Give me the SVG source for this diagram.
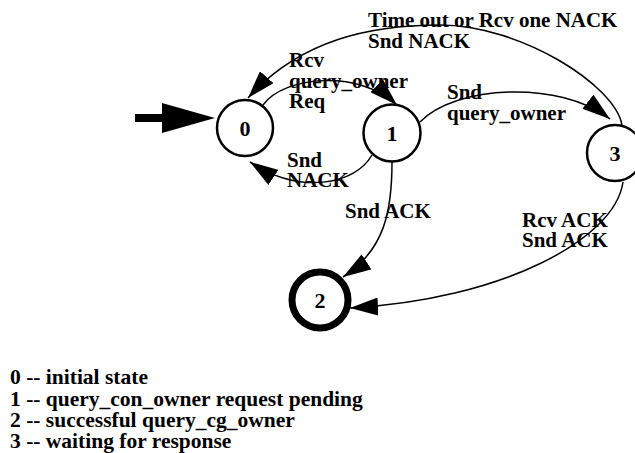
<svg xmlns="http://www.w3.org/2000/svg" width="635" height="453" viewBox="0 0 635 453">
<style>
.t{font-family:'Liberation Serif','Times New Roman',Times,serif;font-weight:700;font-size:21px;fill:#000}
.lg{font-size:21.5px}
.node circle{fill:#fff;stroke:#000;stroke-width:2.5}
.node .final{stroke-width:7}
.node text{text-anchor:middle;font-size:22px}
.edge{fill:none;stroke:#000;stroke-width:1.5;marker-end:url(#ah)}
</style>
<defs>
<marker id="ah" viewBox="0 0 28 18" refX="28" refY="9" markerUnits="userSpaceOnUse" markerWidth="28" markerHeight="18" orient="auto">
<path d="M0,0 L28,9 L0,18 z" fill="#000"/>
</marker>
</defs>
<g id="connectors">
<g id="init"><line x1="135" y1="118" x2="165" y2="118" stroke="#000" stroke-width="8"/><polygon points="162,103 215,118 162,133" fill="#000"/></g>
<path id="e30" class="edge" d="M622,125 C615,85 520,25 440,25 C370,25 300,40 248,98"/>
<path id="e01" class="edge" d="M263,105 C285,75 360,70 397,105"/>
<path id="e10" class="edge" d="M372,155 C355,185 300,195 250,162"/>
<path id="e13" class="edge" d="M420,122 C455,85 560,80 610,119"/>
<path id="e12" class="edge" d="M392,162 C392,210 385,250 343,277"/>
<path id="e32" class="edge" d="M623,182 C615,240 500,300 350,308"/>
</g>
<g id="labels" class="t">
<text x="368" y="27">Time out or Rcv one NACK</text>
<text x="368" y="48">Snd NACK</text>
<text x="289" y="67">Rcv</text>
<text x="289" y="88">query_owner</text>
<text x="289" y="108">Req</text>
<text x="287" y="167">Snd</text>
<text x="287" y="187">NACK</text>
<text x="447" y="99">Snd</text>
<text x="447" y="120">query_owner</text>
<text x="345" y="218">Snd ACK</text>
<text x="522" y="227">Rcv ACK</text>
<text x="522" y="247">Snd ACK</text>
</g>
<g id="node0" class="node t"><circle cx="245" cy="128" r="28"/><text x="245" y="135.5">0</text></g>
<g id="node1" class="node t"><circle cx="392" cy="133" r="28.5"/><text x="392" y="140.5">1</text></g>
<g id="node2" class="node t"><circle class="final" cx="320" cy="300" r="28"/><text x="320" y="307.5">2</text></g>
<g id="node3" class="node t"><circle cx="615" cy="153" r="28"/><text x="615" y="160.5">3</text></g>
<g id="legend" class="t lg">
<text x="10" y="384">0 -- initial state</text>
<text x="10" y="406">1 -- query_con_owner request pending</text>
<text x="10" y="427">2 -- successful query_cg_owner</text>
<text x="10" y="448">3 -- waiting for response</text>
</g>
</svg>
